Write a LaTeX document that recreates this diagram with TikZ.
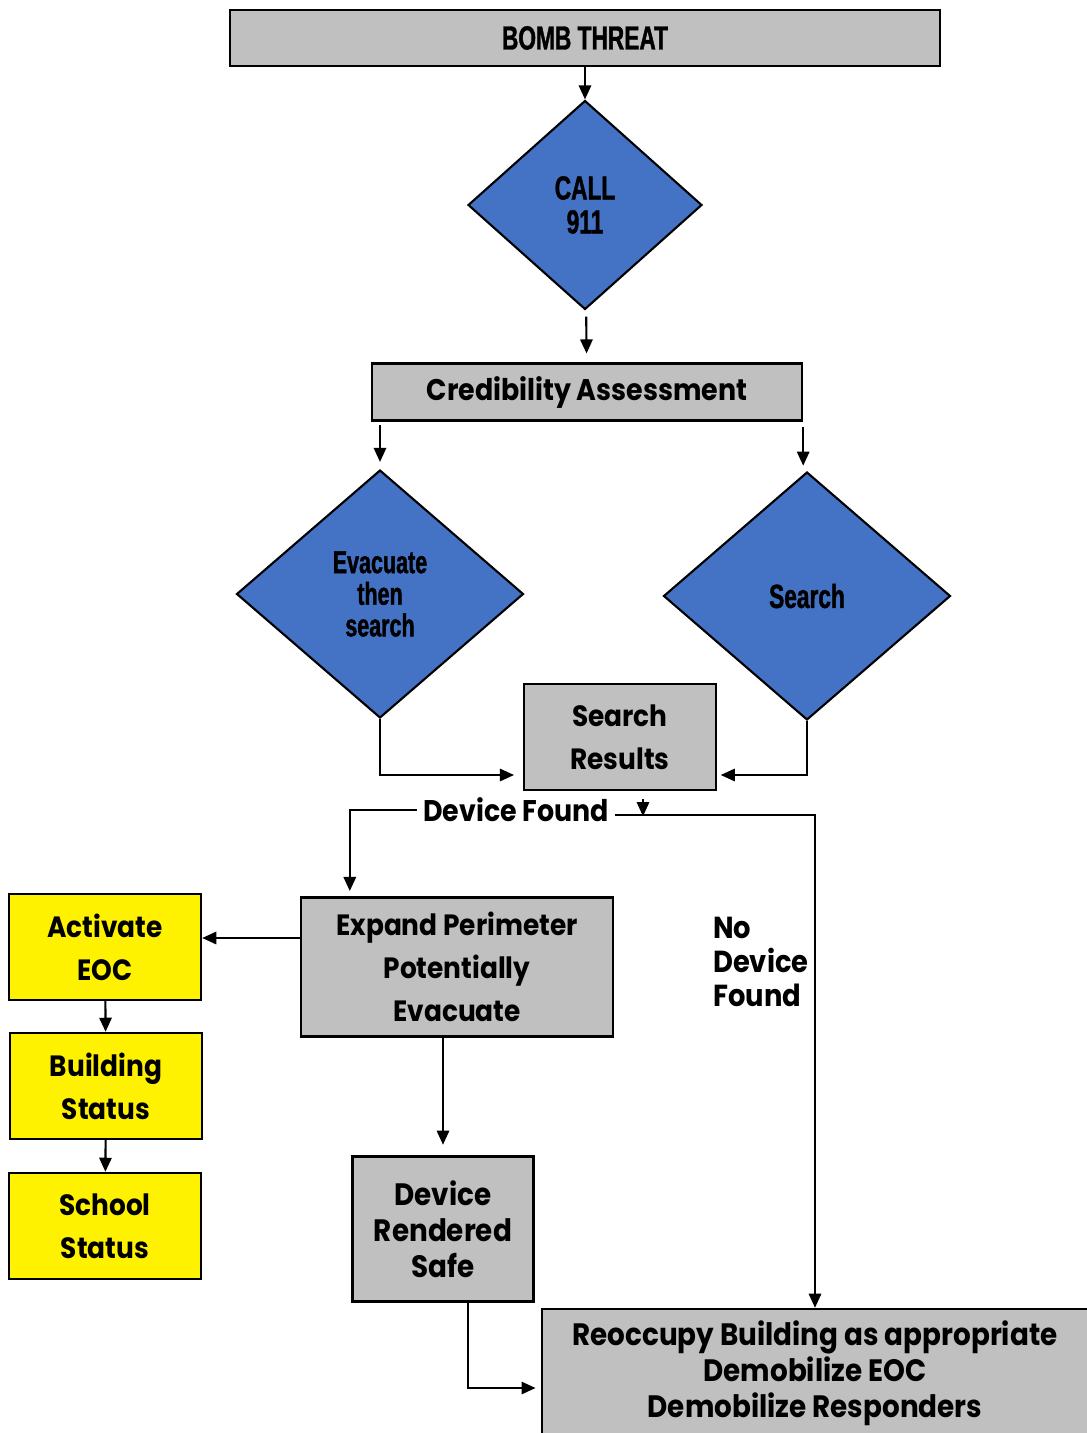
\documentclass[tikz,border=0pt]{standalone}
\usepackage{fontspec}
\usetikzlibrary{positioning,calc,shapes.geometric,arrows.meta}
\newfontfamily\gothic{Poppins}[UprightFont={* Bold}, BoldFont={* Bold}, FakeStretch=0.9]
\newfontfamily\narrow{Liberation Sans}[UprightFont={* Bold}, BoldFont={* Bold}, FakeStretch=0.68, FakeBold=1.2]
\definecolor{boxgray}{HTML}{C0C0C0}
\definecolor{diablue}{HTML}{4472C4}
\tikzset{
  box/.style={draw, line width=1.4pt, fill=boxgray, inner sep=0pt, align=center, font=\gothic\fontsize{16.7}{24.4}\selectfont},
  eoc/.style={box, fill=yellow, minimum width=3.84cm, minimum height=2.12cm},
  dia/.style={diamond, draw, line width=1.2pt, fill=diablue, inner sep=0pt, align=center, font=\narrow\fontsize{18}{18}\selectfont},
  arr/.style={-{Triangle[length=8pt,width=7pt]}, line width=1.2pt}
}
\begin{document}
\begin{tikzpicture}[x=0.02cm,y=-0.02cm]
  \useasboundingbox (0,0) rectangle (1087,1433);
  \clip (0,0) rectangle (1087,1433);
  \node[box, minimum width=14.2cm, minimum height=1.12cm, font=\narrow\fontsize{19}{19}\selectfont] (threat) at (585,38) {BOMB THREAT};
  \node[dia, minimum width=4.68cm, minimum height=4.18cm, font=\narrow\fontsize{19}{19.3}\selectfont] (call) at (585,205) {CALL\\911};
  \node[box, minimum width=8.6cm, minimum height=1.14cm, font=\gothic\fontsize{17}{17}\selectfont] (cred) at (587,392) {Credibility Assessment};
  \node[dia, minimum width=5.74cm, minimum height=4.96cm] (evac) at (380,594) {Evacuate\\then\\search};
  \node[dia, minimum width=5.74cm, minimum height=4.96cm, font=\narrow\fontsize{19}{19}\selectfont] (search) at (807,596) {Search};
  \node[box, minimum width=3.84cm, minimum height=2.12cm] (res) at (620,737) {Search\\Results};
  \node[font=\gothic\fontsize{17}{17}\selectfont] (found) at (516,810) {Device Found};
  \node[box, minimum width=6.24cm, minimum height=2.78cm] (expand) at (457,967) {Expand Perimeter\\Potentially\\Evacuate};
  \node[eoc] (act) at (105,947) {Activate\\EOC};
  \node[eoc] (bldg) at (106,1086) {Building\\Status};
  \node[eoc] (school) at (105,1226) {School\\Status};
  \node[box, minimum width=3.62cm, minimum height=2.9cm, font=\gothic\fontsize{17.6}{20.4}\selectfont] (safe) at (443,1229) {Device\\Rendered\\Safe};
  \node[box, minimum width=10.92cm, minimum height=2.56cm, font=\gothic\fontsize{17.6}{20.4}\selectfont] (reocc) at (815,1373) {Reoccupy Building as appropriate\\Demobilize EOC\\Demobilize Responders};
  \node[anchor=west, align=left, font=\gothic\fontsize{17.3}{19.3}\selectfont] (nodev) at (707,962) {No\\Device\\Found};

  \draw[arr] (threat) -- (call);
  \draw[arr, shorten <=4pt, shorten >=5pt] (call) -- (cred);
  \draw[arr, shorten <=2pt, shorten >=4pt] (cred.south west -| evac.north) -- (evac.north);
  \draw[arr, shorten <=3pt, shorten >=3pt] (cred.south east) -- (cred.south east |- search.north);
  \draw[arr, shorten >=5pt] (evac.south) |- ($(res.west)+(0,38)$);
  \draw[arr, shorten >=2pt] (search.south) |- ($(res.east)+(0,38)$);
  \draw[arr, shorten >=3pt] (found.west) -| ($(expand.north west)+(50,0)$);
  \draw[arr] (found.east) ++(0,5) -| (reocc.north);
  \draw[arr] ($(res.south)+(23,8)$) -- ($(res.south)+(23,25)$);
  \coordinate (toeoc) at ($(expand.west)+(0,-29)$);
  \draw[arr] (toeoc) -- (toeoc -| act.east);
  \draw[arr, shorten >=6pt] (expand.south -| safe.north) -- (safe.north);
  \draw[arr] (act) -- (bldg);
  \draw[arr] (bldg) -- (school);
  \draw[arr, shorten >=3pt] ($(safe.south)+(25,0)$) |- ($(reocc.west)+(0,15)$);
\end{tikzpicture}
\end{document}
